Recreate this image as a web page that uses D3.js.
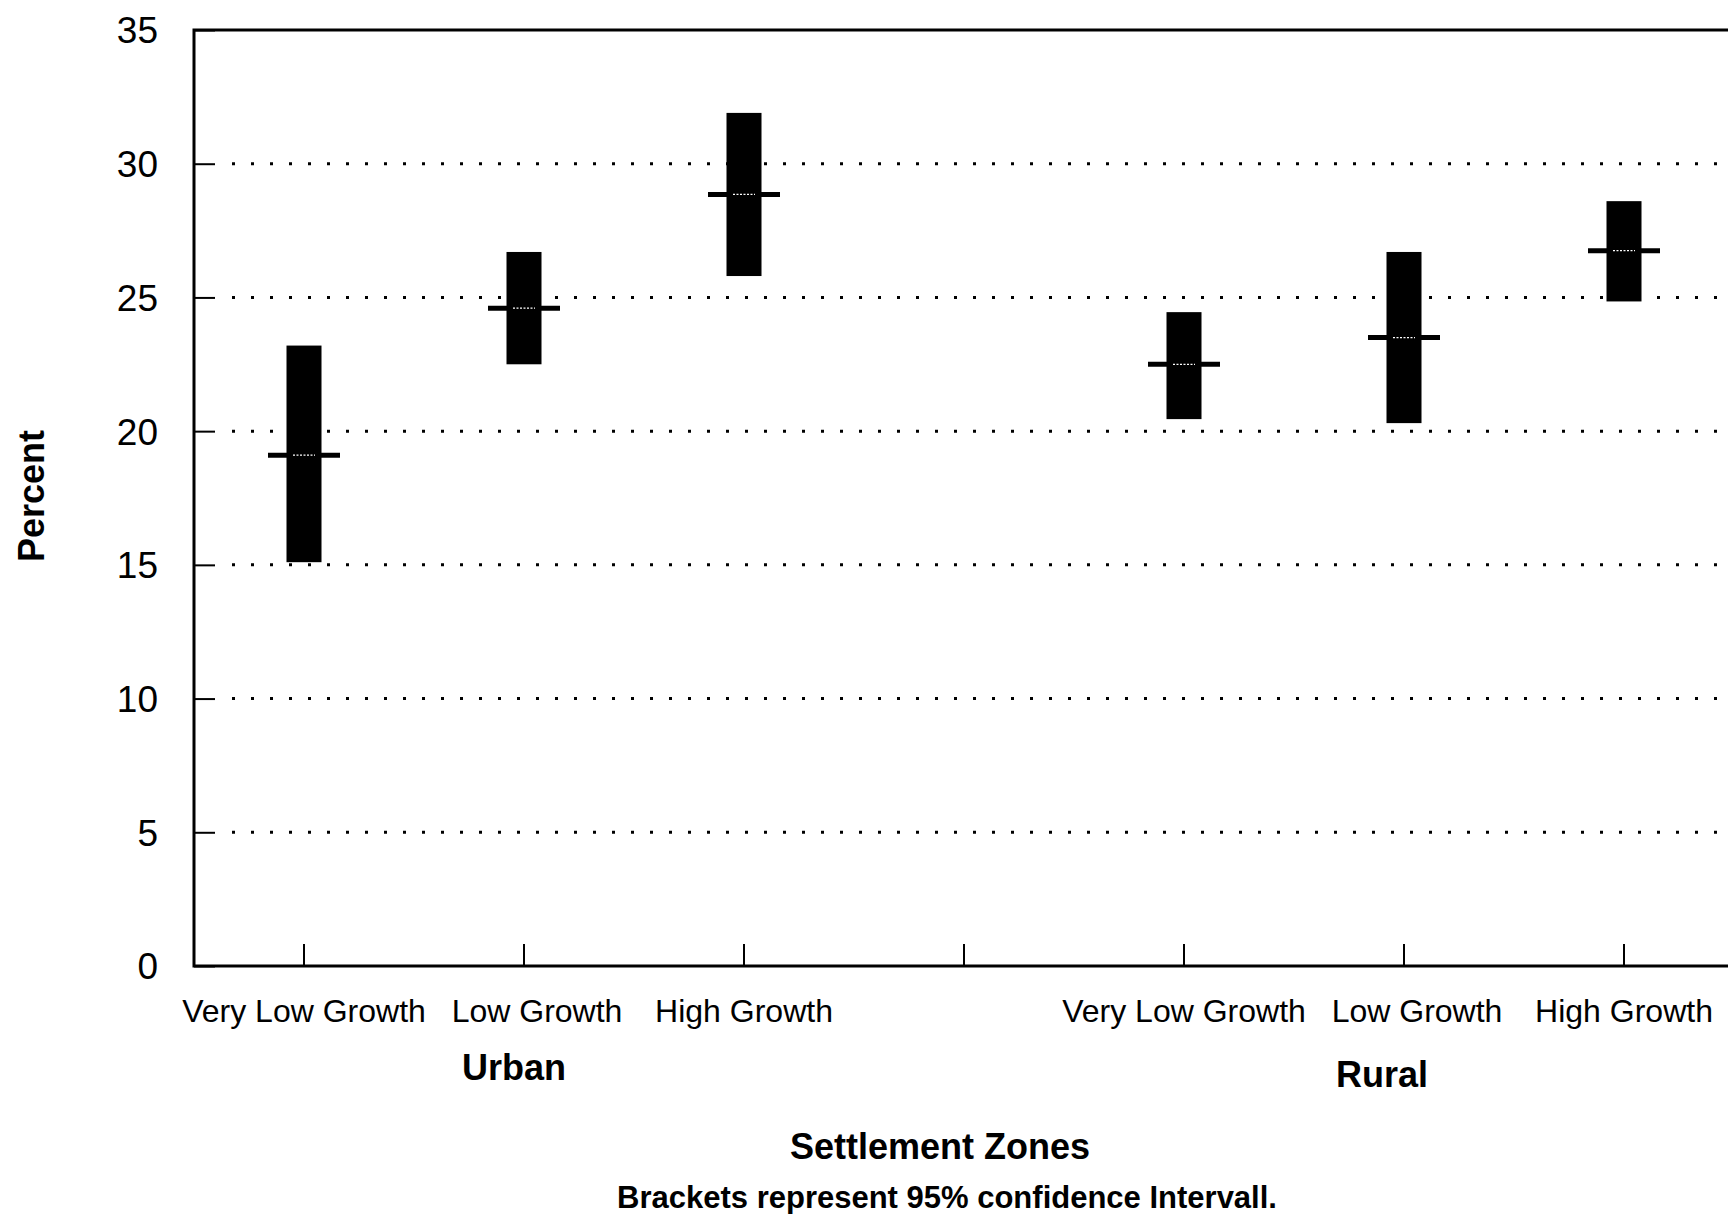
<!DOCTYPE html>
<html>
<head>
<meta charset="utf-8">
<script src="https://cdn.jsdelivr.net/npm/d3@7"></script>
<style>
  body { margin: 0; background: #fff; }
  text { font-family: "Liberation Sans", Arial, Helvetica, sans-serif; fill: #000; }
</style>
</head>
<body>
<div id="chart"></div>
<script>
var width = 1728;
var height = 1214;

// data
var slots = ["U-VLG", "U-LG", "U-HG", "gap", "R-VLG", "R-LG", "R-HG"];
var tickLabels = ["Very Low Growth", "Low Growth", "High Growth", "", "Very Low Growth", "Low Growth", "High Growth"];
var meanValues = [19.1, 24.6, 28.85, null, 22.5, 23.5, 26.75];
var lowerCI = [15.1, 22.5, 25.8, null, 20.45, 20.3, 24.85];
var upperCI = [23.2, 26.7, 31.9, null, 24.45, 26.7, 28.6];
var groups = ["Urban", "Rural"];
var groupCenters = ["U-LG", "R-LG"];
var yTicks = [0, 5, 10, 15, 20, 25, 30, 35];

var plotLeft = 194, plotTop = 30, plotBottom = 966;
var barWidth = 35, meanWidth = 72;

var svg = d3.select("#chart").append("svg")
      .attr("width", width)
      .attr("height", height);

var xScale = d3.scaleBand()
      .domain(slots)
      .range([plotLeft, plotLeft + 220 * slots.length])
      .paddingInner(0)
      .paddingOuter(0);

var yScale = d3.scaleLinear()
      .domain([0, 35])
      .range([plotBottom, plotTop]);

var cx = d => xScale(d) + xScale.bandwidth() / 2;

// dotted gridlines
svg.append("g")
      .selectAll("line")
      .data(yTicks.filter(d => d > 0 && d < 35))
      .enter()
      .append("line")
            .attr("x1", plotLeft + 38)
            .attr("x2", width)
            .attr("y1", d => yScale(d))
            .attr("y2", d => yScale(d))
            .style("stroke", "#000")
            .style("stroke-width", 3)
            .style("stroke-dasharray", "3 16");

// y axis with inward ticks
var yAxis = d3.axisLeft(yScale)
      .tickValues(yTicks)
      .tickSizeInner(-21)
      .tickSizeOuter(0)
      .tickFormat(d3.format("d"));

var yAxisGroup = svg.append("g")
      .attr("transform", "translate(" + plotLeft + ",0)")
      .call(yAxis);
yAxisGroup.select(".domain").remove();
yAxisGroup.selectAll(".tick line").style("stroke-width", 2);
yAxisGroup.selectAll(".tick text")
      .style("font-size", "37px")
      .attr("x", -36)
      .attr("dy", "0.35em");

// x axis with upward ticks
var xAxis = d3.axisBottom(xScale)
      .tickSizeInner(-22)
      .tickSizeOuter(0)
      .tickFormat((d, i) => tickLabels[i]);

var xAxisGroup = svg.append("g")
      .attr("transform", "translate(0," + plotBottom + ")")
      .call(xAxis);
xAxisGroup.select(".domain").remove();
xAxisGroup.selectAll(".tick line").style("stroke-width", 2);
xAxisGroup.selectAll(".tick text")
      .style("font-size", "32px")
      .attr("y", 56)
      .attr("dy", 0)
      .attr("dx", (d, i) => tickLabels[i] === "Low Growth" ? 13 : 0);

// frame: left, top, bottom
svg.append("path")
      .attr("d", "M" + width + "," + plotTop + "H" + plotLeft + "V" + plotBottom + "H" + width)
      .style("fill", "none")
      .style("stroke", "#000")
      .style("stroke-width", 3);

// confidence bars and means
var rows = slots.map((s, i) => ({ slot: s, lo: lowerCI[i], hi: upperCI[i], mean: meanValues[i] }))
      .filter(d => d.mean != null);

var marks = svg.append("g");
marks.selectAll("rect")
      .data(rows)
      .enter()
      .append("rect")
            .attr("x", d => cx(d.slot) - barWidth / 2)
            .attr("width", barWidth)
            .attr("y", d => yScale(d.hi))
            .attr("height", d => yScale(d.lo) - yScale(d.hi))
            .style("fill", "#000");

marks.selectAll("line.mean")
      .data(rows)
      .enter()
      .append("line")
            .attr("class", "mean")
            .attr("x1", d => cx(d.slot) - meanWidth / 2)
            .attr("x2", d => cx(d.slot) + meanWidth / 2)
            .attr("y1", d => yScale(d.mean))
            .attr("y2", d => yScale(d.mean))
            .style("stroke", "#000")
            .style("stroke-width", 5);

// faint white speckle where the mean crosses the bar
marks.selectAll("line.glint")
      .data(rows)
      .enter()
      .append("line")
            .attr("class", "glint")
            .attr("x1", d => cx(d.slot) - 11)
            .attr("x2", d => cx(d.slot) + 11)
            .attr("y1", d => yScale(d.mean))
            .attr("y2", d => yScale(d.mean))
            .style("stroke", "#fff")
            .style("stroke-width", 1.2)
            .style("stroke-dasharray", "2 1.5");

// group labels
var groupShift = [-10, -22];
svg.append("g")
      .selectAll("text")
      .data(groups)
      .enter()
      .append("text")
            .attr("x", (d, i) => cx(groupCenters[i]) + groupShift[i])
            .attr("y", (d, i) => 1080 + i * 7)
            .style("text-anchor", "middle")
            .style("font-size", "36px")
            .style("font-weight", "bold")
            .text(d => d);

// axis titles
svg.append("text")
      .attr("transform", "rotate(-90)")
      .attr("x", -496)
      .attr("y", 44)
      .style("text-anchor", "middle")
      .style("font-size", "36px")
      .style("font-weight", "bold")
      .text("Percent");

svg.append("text")
      .attr("x", 940)
      .attr("y", 1159)
      .style("text-anchor", "middle")
      .style("font-size", "36px")
      .style("font-weight", "bold")
      .text("Settlement Zones");

svg.append("text")
      .attr("x", 947)
      .attr("y", 1208)
      .style("text-anchor", "middle")
      .style("font-size", "31px")
      .style("font-weight", "bold")
      .text("Brackets represent 95% confidence Intervall.");
</script>
</body>
</html>
